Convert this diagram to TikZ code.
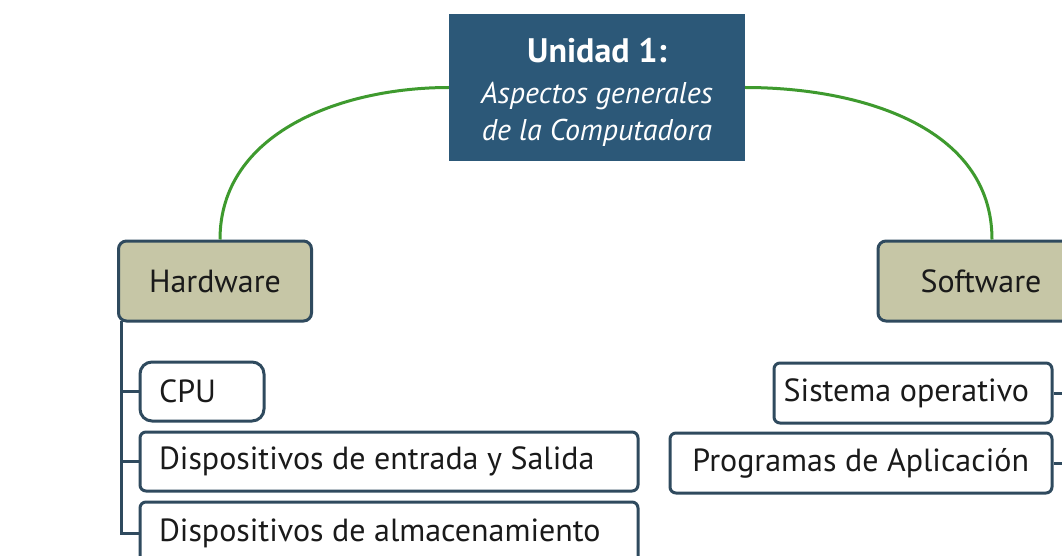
\documentclass[tikz,border=0pt]{standalone}
\usepackage{fontspec}
\setmainfont{PT Sans}
\definecolor{cblue}{HTML}{2C5878}
\definecolor{khaki}{HTML}{C6C6A6}
\definecolor{edge}{HTML}{2F4A5E}
\definecolor{lgreen}{HTML}{3E9A2E}
\definecolor{txt}{HTML}{1A1A1A}
\begin{document}
\begin{tikzpicture}[x=1pt,y=-1pt,
  every node/.style={font=\fontsize{32}{36}\selectfont, text=txt},
  centre/.style={fill=cblue, minimum width=296pt, minimum height=147pt, text=white,
    align=center, inner sep=0pt},
  topic/.style={draw=edge, line width=3pt, fill=khaki, rounded corners=8pt,
    minimum height=80pt, inner sep=0pt},
  litem/.style={draw=edge, line width=3pt, fill=white, rounded corners=6pt,
    minimum height=59pt, inner xsep=19pt, inner ysep=0pt},
  ritem/.style={draw=edge, line width=3pt, fill=white, rounded corners=6pt,
    minimum height=60pt, inner xsep=23pt, inner ysep=0pt},
  green/.style={draw=lgreen, line width=3pt},
  branch/.style={draw=edge, line width=3pt},
]
\useasboundingbox (0,0) rectangle (1062,556);
\clip (0,0) rectangle (1062,556);
\fill[white] (0,0) rectangle (1062,556);

\node[centre] (c) at (597,87.5) {%
  {\fontsize{34}{40}\selectfont\bfseries\rule{0pt}{34pt}Unidad 1:}\\[5pt]
  {\fontsize{30}{35}\selectfont\itshape Aspectos generales}\\[1pt]
  {\fontsize{30}{35}\selectfont\itshape de la Computadora}};

\node[topic, minimum width=193pt] (hw) at (215,281) {Hardware};
\node[topic, minimum width=206pt] (sw) at (981,281) {Software};

\draw[green] (c.west) to[out=180,in=90] ([xshift=5pt]hw.north);
\draw[green] (c.east) to[out=0,in=90] ([xshift=11pt]sw.north);

\node[litem, rounded corners=12pt] (cpu) at (202,391.5) {\makebox[86pt][l]{CPU}};
\node[litem] (din) at (389,461.5) {\makebox[460pt][l]{Dispositivos de entrada y Salida}};
\node[litem, minimum height=62pt] (dalm) at (389,533) {\makebox[460pt][l]{Dispositivos de almacenamiento}};

\node[ritem] (so) at (913,393) {\makebox[232pt][r]{Sistema operativo}};
\node[ritem] (pa) at (861,463) {\makebox[336pt][r]{Programas de Aplicación}};

\coordinate (ht) at (121,321);
\coordinate (st) at (1072,321);
\draw[branch] (ht) |- (cpu.west);
\draw[branch] (ht) |- (din.west);
\draw[branch] (ht) |- (dalm.west);
\draw[branch] (st) |- (so.east);
\draw[branch] (st) |- (pa.east);
\end{tikzpicture}
\end{document}
